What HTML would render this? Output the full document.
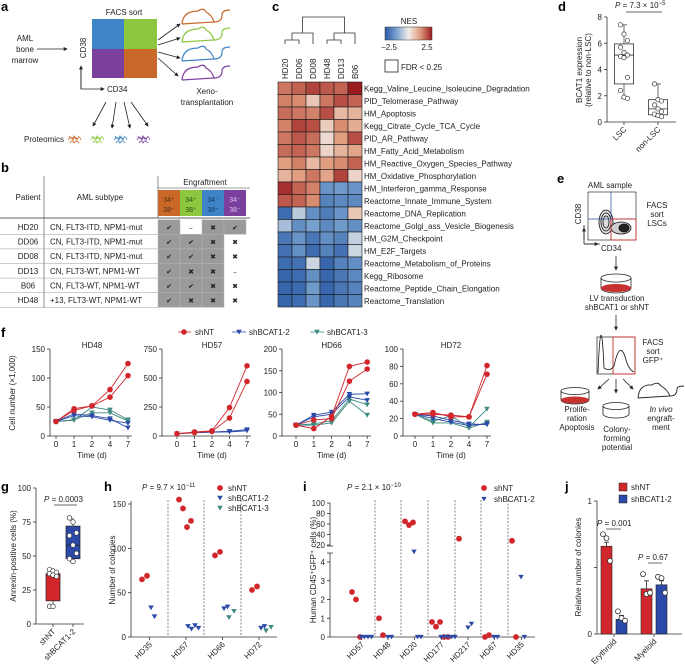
<!DOCTYPE html>
<html><head><meta charset="utf-8">
<style>
html,body{margin:0;padding:0;background:#fff;}
svg{display:block;font-family:"Liberation Sans",Arial,sans-serif;}
text{fill:#222;}
.pl{font-weight:bold;font-size:13px;fill:#000;}
.t8{font-size:8px;}
.t7{font-size:7px;}
.ax{stroke:#333;stroke-width:0.8;fill:none;}
</style></head>
<body>
<svg id="fig" width="685" height="668" viewBox="0 0 685 668" xmlns="http://www.w3.org/2000/svg">
<defs>
<marker id="ah" viewBox="0 0 6 6" refX="5" refY="3" markerWidth="5" markerHeight="5" orient="auto"><path d="M0,0L6,3L0,6z" fill="#222"/></marker>
</defs>
<!-- panel a -->
<g>
<text class="pl" x="1" y="11">a</text>
<text class="t8" x="124" y="15" text-anchor="middle">FACS sort</text>
<rect x="92" y="19" width="32" height="30" fill="#3f84c6"/>
<rect x="124" y="19" width="33" height="30" fill="#8dc63f"/>
<rect x="92" y="49" width="32" height="29" fill="#7b3f9e"/>
<rect x="124" y="49" width="33" height="29" fill="#c8692a"/>
<text class="t8" x="25" y="41" text-anchor="middle">AML</text>
<text class="t8" x="25" y="52" text-anchor="middle">bone</text>
<text class="t8" x="25" y="63" text-anchor="middle">marrow</text>
<line x1="37" y1="49" x2="67" y2="49" stroke="#222" stroke-width="0.8" marker-end="url(#ah)"/>
<text class="t8" transform="translate(86,48) rotate(-90)" text-anchor="middle">CD38</text>
<path d="M81,66 L81,89 L104,89" fill="none" stroke="#222" stroke-width="0.8" marker-end="url(#ah)"/>
<line x1="81" y1="89" x2="81" y2="66" stroke="#222" stroke-width="0.8" marker-end="url(#ah)"/>
<text class="t8" x="107" y="92">CD34</text>
<g stroke="#222" stroke-width="0.8">
<line x1="158" y1="40" x2="180" y2="24" marker-end="url(#ah)"/><line x1="158" y1="45" x2="180" y2="38" marker-end="url(#ah)"/>
<line x1="158" y1="52" x2="180" y2="58" marker-end="url(#ah)"/><line x1="158" y1="58" x2="178" y2="76" marker-end="url(#ah)"/>
</g>
<g fill="none" stroke-width="1.2">
<path d="M182,24 Q183,11 198,11 Q204,7 206,12 Q212,15 214,22 L182,24 M214,22 Q222,22 222,15 Q222,10 230,10" stroke="#c8692a"/>
<path d="M182,42 Q183,29 198,29 Q204,25 206,30 Q212,33 214,40 L182,42 M214,40 Q222,40 222,33 Q222,28 230,28" stroke="#8dc63f"/>
<path d="M182,61 Q183,48 198,48 Q204,44 206,49 Q212,52 214,59 L182,61 M214,59 Q222,59 222,52 Q222,47 230,47" stroke="#3f84c6"/>
<path d="M182,80 Q183,67 198,67 Q204,63 206,68 Q212,71 214,78 L182,80 M214,78 Q222,78 222,71 Q222,66 230,66" stroke="#7b3f9e"/>
</g>
<text class="t8" x="207" y="94" text-anchor="middle">Xeno-</text>
<text class="t8" x="207" y="105" text-anchor="middle">transplantation</text>
<g stroke="#222" stroke-width="0.8">
<line x1="106" y1="102" x2="93" y2="126" marker-end="url(#ah)"/><line x1="116" y1="102" x2="112" y2="128" marker-end="url(#ah)"/>
<line x1="124" y1="102" x2="130" y2="128" marker-end="url(#ah)"/><line x1="131" y1="102" x2="148" y2="126" marker-end="url(#ah)"/>
</g>
<text class="t8" x="24" y="142">Proteomics</text>
<g fill="none" stroke-width="0.8">
<path d="M68,140 q3,-6 5,0 q2,-6 4,0 q2,-6 4,0 M69,136 q3,6 5,0 q2,6 5,0 M70,143 q2,-4 4,0 q2,-4 5,0" stroke="#c8692a"/>
<path d="M91,140 q3,-6 5,0 q2,-6 4,0 q2,-6 4,0 M92,136 q3,6 5,0 q2,6 5,0 M93,143 q2,-4 4,0 q2,-4 5,0" stroke="#8dc63f"/>
<path d="M114,140 q3,-6 5,0 q2,-6 4,0 q2,-6 4,0 M115,136 q3,6 5,0 q2,6 5,0 M116,143 q2,-4 4,0 q2,-4 5,0" stroke="#3f84c6"/>
<path d="M137,140 q3,-6 5,0 q2,-6 4,0 q2,-6 4,0 M138,136 q3,6 5,0 q2,6 5,0 M139,143 q2,-4 4,0 q2,-4 5,0" stroke="#7b3f9e"/>
</g>
</g>
<!-- panel b -->
<g>
<text class="pl" x="1" y="172">b</text>
<line x1="44" y1="176" x2="44" y2="308" stroke="#444" stroke-width="0.6"/>
<line x1="158" y1="176" x2="158" y2="218" stroke="#444" stroke-width="0.6"/>
<line x1="158" y1="188" x2="250" y2="188" stroke="#444" stroke-width="0.6"/>
<text class="t8" x="205" y="185" text-anchor="middle">Engraftment</text>
<text class="t8" x="28" y="200" text-anchor="middle">Patient</text>
<text class="t8" x="100" y="200" text-anchor="middle">AML subtype</text>
<rect x="158" y="190" width="22" height="26" fill="#c8692a"/><rect x="180" y="190" width="22" height="26" fill="#8dc63f"/>
<rect x="202" y="190" width="22" height="26" fill="#3f84c6"/><rect x="224" y="190" width="22" height="26" fill="#7b3f9e"/>
<g class="t7" text-anchor="middle">
<text x="169" y="202" style="fill:#5a2a08">34⁺</text><text x="169" y="212" style="fill:#5a2a08">38⁻</text>
<text x="191" y="202" style="fill:#2f4d10">34⁺</text><text x="191" y="212" style="fill:#2f4d10">38⁺</text>
<text x="213" y="202" style="fill:#133a60">34⁻</text><text x="213" y="212" style="fill:#133a60">38⁺</text>
<text x="235" y="202" style="fill:#d9c2ea">34⁻</text><text x="235" y="212" style="fill:#d9c2ea">38⁻</text>
</g>
<line x1="0" y1="218" x2="250" y2="218" stroke="#333" stroke-width="0.8"/>
<g id="tableRows"></g>
</g>
<!-- panel c -->
<g>
<text class="pl" x="272" y="11">c</text>
<g id="dendro" fill="none" stroke="#333" stroke-width="0.8">
<path d="M285,44V40H299V44 M292,40V33H313V44 M327,44V40H341V44 M334,40V33H355V44 M302.5,33V17H344.5V33"/>
</g>
<g id="heat"></g>
<text class="t8" x="409" y="24" text-anchor="middle">NES</text>
<linearGradient id="nesg" x1="0" x2="1" y1="0" y2="0">
<stop offset="0" stop-color="#2a5aa6"/><stop offset="0.25" stop-color="#7aa3cf"/><stop offset="0.5" stop-color="#f3eeea"/><stop offset="0.75" stop-color="#e09b7c"/><stop offset="1" stop-color="#9b1c1f"/>
</linearGradient>
<rect x="385" y="27" width="47" height="13" fill="url(#nesg)" stroke="#333" stroke-width="0.5"/>
<text class="t8" x="389" y="50" text-anchor="middle">−2.5</text>
<text class="t8" x="427" y="50" text-anchor="middle">2.5</text>
<rect x="385" y="60" width="13" height="12" fill="none" stroke="#222" stroke-width="0.8"/>
<text class="t8" x="401" y="70">FDR &lt; 0.25</text>
</g>
<!-- panel d -->
<g id="pd">
<text class="pl" x="558" y="11">d</text>
</g>
<!-- panel e -->
<g>
<text class="pl" x="557" y="183">e</text>
<text class="t8" x="610" y="188" text-anchor="middle">AML sample</text>
<rect x="588" y="192" width="48" height="48" fill="#fff" stroke="#333" stroke-width="0.7"/>
<g fill="none" stroke="#111" stroke-width="0.8">
<ellipse cx="606" cy="222" rx="7" ry="12" fill="#ddd"/><ellipse cx="606" cy="222" rx="5" ry="9"/><ellipse cx="606" cy="222" rx="3" ry="6"/>
<ellipse cx="621" cy="228" rx="10" ry="6" fill="#ccc"/><ellipse cx="624" cy="228" rx="5" ry="4" fill="#222"/>
</g>
<line x1="611" y1="192" x2="611" y2="240" stroke="#2a4aa8" stroke-width="0.7"/>
<line x1="588" y1="219" x2="636" y2="219" stroke="#2a4aa8" stroke-width="0.7"/>
<rect x="611" y="219" width="25" height="21" fill="none" stroke="#c8322e" stroke-width="0.9"/>
<path d="M584,240V225 M584,244H600" stroke="#222" stroke-width="0.8" fill="none"/>
<line x1="584" y1="244" x2="584" y2="228" stroke="#222" stroke-width="0.8" marker-end="url(#ah)"/>
<line x1="584" y1="244" x2="598" y2="244" stroke="#222" stroke-width="0.8" marker-end="url(#ah)"/>
<text class="t8" transform="translate(581,214) rotate(-90)" text-anchor="middle">CD38</text>
<text class="t8" x="601" y="251">CD34</text>
<text class="t8" x="657" y="208" text-anchor="middle">FACS</text><text class="t8" x="657" y="217" text-anchor="middle">sort</text><text class="t8" x="657" y="226" text-anchor="middle">LSCs</text>
<line x1="616" y1="256" x2="616" y2="270" stroke="#222" stroke-width="0.8" marker-end="url(#ah)"/>
<path d="M601,278 V288 A15,5 0 0 0 631,288 V278" fill="#fff" stroke="#222" stroke-width="0.8"/>
<ellipse cx="616" cy="288" rx="15" ry="4" fill="#c8322e"/>
<ellipse cx="616" cy="278" rx="15" ry="4" fill="#fff" stroke="#222" stroke-width="0.8"/>
<text class="t8" x="617" y="301" text-anchor="middle">LV transduction</text>
<text class="t8" x="617" y="310" text-anchor="middle">shBCAT1 or shNT</text>
<line x1="616" y1="315" x2="616" y2="330" stroke="#222" stroke-width="0.8" marker-end="url(#ah)"/>
<rect x="597" y="337" width="38" height="37" fill="#fff" stroke="#222" stroke-width="0.7"/>
<rect x="613" y="337" width="22" height="37" fill="none" stroke="#c8322e" stroke-width="0.9"/>
<path d="M598,373 Q601,300 604,368 Q610,372 614,366 Q620,338 626,360 Q629,370 634,372" fill="none" stroke="#111" stroke-width="0.8"/>
<text class="t8" x="653" y="345" text-anchor="middle">FACS</text><text class="t8" x="653" y="354" text-anchor="middle">sort</text><text class="t8" x="653" y="363" text-anchor="middle">GFP⁺</text>
<g stroke="#222" stroke-width="0.8"><line x1="609" y1="379" x2="598" y2="389" marker-end="url(#ah)"/><line x1="616" y1="379" x2="616" y2="393" marker-end="url(#ah)"/><line x1="623" y1="379" x2="633" y2="389" marker-end="url(#ah)"/></g>
<path d="M561,391 V400 A14,4 0 0 0 589,400 V391" fill="#fff" stroke="#222" stroke-width="0.8"/>
<ellipse cx="575" cy="400" rx="14" ry="3.5" fill="#c8322e"/>
<ellipse cx="575" cy="391" rx="14" ry="3.5" fill="#fff" stroke="#222" stroke-width="0.8"/>
<path d="M603,406 V414 A13,4 0 0 0 629,414 V406" fill="#fff" stroke="#222" stroke-width="0.8"/>
<ellipse cx="616" cy="406" rx="13" ry="3.5" fill="#fff" stroke="#222" stroke-width="0.8"/>
<path d="M638,398 Q639,384 652,385 Q658,381 661,386 Q667,389 670,396 L638,398 M670,396 Q677,396 677,389 Q677,386 684,386" fill="none" stroke="#222" stroke-width="0.9"/>
<text class="t8" x="577" y="412" text-anchor="middle">Prolife-</text><text class="t8" x="577" y="421" text-anchor="middle">ration</text><text class="t8" x="577" y="430" text-anchor="middle">Apoptosis</text>
<text class="t8" x="617" y="432" text-anchor="middle">Colony-</text><text class="t8" x="617" y="441" text-anchor="middle">forming</text><text class="t8" x="617" y="450" text-anchor="middle">potential</text>
<text class="t8" x="661" y="412" text-anchor="middle" font-style="italic">In vivo</text><text class="t8" x="661" y="421" text-anchor="middle">engraft-</text><text class="t8" x="661" y="430" text-anchor="middle">ment</text>
</g>
<!-- f -->
<g id="pf">
<text class="pl" x="1" y="337">f</text>
<text class="t8" transform="translate(15,393) rotate(-90)" text-anchor="middle">Cell number (×1,000)</text>
</g>
<g id="pg"><text class="pl" x="1" y="491">g</text></g>
<g id="ph"><text class="pl" x="104" y="491">h</text></g>
<g id="pi"><text class="pl" x="303" y="491">i</text></g>
<g id="pj"><text class="pl" x="565" y="491">j</text></g>
</svg>
<script>
// ===== data =====
const tablePatients = ["HD20","DD06","DD08","DD13","B06","HD48"];
const tableSubtypes = ["CN, FLT3-ITD, NPM1-mut","CN, FLT3-ITD, NPM1-mut","CN, FLT3-ITD, NPM1-mut","CN, FLT3-WT, NPM1-WT","CN, FLT3-WT, NPM1-WT","+13, FLT3-WT, NPM1-WT"];
const tableMarks = [["✔","–","✖","✔"],["✔","✔","✖","✖"],["✔","✔","✖","✖"],["✔","✖","✖","–"],["✔","✔","✖","✖"],["✔","✖","✖","✖"]];
const tableShaded = [[1,0,1,1],[1,1,1,0],[1,1,1,0],[1,1,1,0],[1,1,1,0],[1,1,1,0]];

const heatCols = ["HD20","DD06","DD08","HD48","DD13","B06"];
const heatRows = ["Kegg_Valine_Leucine_Isoleucine_Degradation","PID_Telomerase_Pathway","HM_Apoptosis","Kegg_Citrate_Cycle_TCA_Cycle","PID_AR_Pathway","HM_Fatty_Acid_Metabolism","HM_Reactive_Oxygen_Species_Pathway","HM_Oxidative_Phosphorylation","HM_Interferon_gamma_Response","Reactome_Innate_Immune_System","Reactome_DNA_Replication","Reactome_Golgi_ass_Vesicle_Biogenesis","HM_G2M_Checkpoint","HM_E2F_Targets","Reactome_Metabolism_of_Proteins","Kegg_Ribosome","Reactome_Peptide_Chain_Elongation","Reactome_Translation"];
const heatValues = [
[1.6,1.8,2.1,1.9,1.8,2.5],[1.5,1.4,0.6,1.6,2.0,1.8],[1.7,1.6,1.5,2.0,0.8,0.9],[1.5,2.1,2.0,0.5,1.4,1.0],
[1.6,1.9,1.7,0.3,1.2,2.0],[1.7,1.8,1.6,0.4,0.9,1.1],[1.2,1.5,0.8,1.2,1.4,1.8],[0.9,1.2,1.6,1.1,2.1,0.4],
[2.3,1.8,1.5,-1.5,-1.4,-1.5],[1.9,1.8,1.4,-1.8,-1.7,-1.7],[-2.2,-0.6,-1.6,-1.9,-1.5,0.6],[-0.8,-1.6,-1.3,-1.7,-1.4,-1.6],
[-2.0,-1.5,-2.0,-1.6,-1.8,-0.5],[-2.1,-1.6,-2.2,-1.8,-2.1,-0.4],[-2.2,-2.1,-0.4,-2.3,-1.8,-1.6],[-2.3,-2.2,-1.6,-2.3,-2.0,-1.7],
[-2.3,-2.2,-1.4,-2.3,-2.0,-1.8],[-2.3,-2.2,-1.5,-2.3,-2.0,-1.8]];

const dGroups = ["LSC","non-LSC"];
const dTicks = [0,2,4,6,8];
const dLSC = [7.4,6.7,6.2,5.7,5.3,5.1,5.0,4.9,3.4,2.4,1.9,1.8];
const dNonLSC = [2.9,1.7,1.6,1.3,1.0,0.8,0.6,0.5,0.4];
const dBoxLSC = [1.8,2.9,5.1,5.95,7.4];
const dBoxNon = [0.4,0.55,1.0,1.7,2.9];

const fTimes = ["0","1","2","4","7"];
const fPatients = ["HD48","HD57","HD66","HD72"];
const fMax = [150,750,200,100];
const fTicks = [[0,50,100,150],[0,250,500,750],[0,50,100,150,200],[0,20,40,60,80,100]];
const fShNT = [[[25,47,52,80,125],[25,44,52,67,104]],[[20,35,45,245,605],[20,30,40,155,470]],[[25,17,45,160,170],[25,37,40,126,154]],[[25,27,22,22,81],[25,25,24,22,71]]];
const fShB2 = [[[25,38,35,30,14],[25,35,33,27,22]],[[20,30,35,40,55],[20,28,33,35,45]],[[25,48,55,96,97],[25,44,50,90,82]],[[25,23,18,14,13],[25,20,16,12,14]]];
const fShB3 = [[[25,27,50,45,28],[25,28,40,40,26]],[],[[25,28,35,85,72],[25,25,30,80,48]],[[25,17,23,10,31],[25,15,15,9,16]]];

const gGroups = ["shNT","shBCAT1-2"];
const gTicks = [0,25,50,75,100];
const gShNT = [40,39,38,37,36,35,13,13];
const gShB2 = [78,75,67,65,58,52,48,46];
const gBoxNT = [13,17,36,37,40];
const gBoxB2 = [45,48,58,72,78];

const hPatients = ["HD35","HD57","HD66","HD72"];
const hTicks = [0,50,100,150];
const hShNT = [[65,69],[155,145,124,131],[92,96],[53,57]];
const hShB2 = [[33,23],[12,9,13,10],[32,34],[10,12]];
const hShB3 = [[],[],[22,29],[7,11]];

const iPatients = ["HD57","HD48","HD20","HD177","HD217","HD67","HD35"];
const iTicksLow = [0,1,2,3,4];
const iTicksHigh = [20,40,60,80,100];
const iShNT = [[2.4,2.0,0],[1.0,0.1],[65,58,63],[0.8,0.55,0.8,0,0],[32],[0,0.1],[28,0]];
const iShB2 = [[0,0,0,0],[0,0],[7,0,0],[0,0,0,0,0],[0.5,0.7],[0,0],[3.2,0]];

const jGroups = ["Erythroid","Myeloid"];
const jTicks = [0,0.5,1];
const jMeanNT = [0.66,0.34];
const jMeanB2 = [0.11,0.37];
const jErrNT = [0.03,0.06];
const jErrB2 = [0.03,0.03];
const jPtsNT = [[0.75,0.72,0.55],[0.45,0.30,0.31]];
const jPtsB2 = [[0.17,0.12,0.10],[0.43,0.42,0.31]];

// ===== helpers =====
const NS="http://www.w3.org/2000/svg";
function mk(tag, attrs, parent){const e=document.createElementNS(NS,tag);for(const k in attrs)e.setAttribute(k,attrs[k]);parent.appendChild(e);return e;}
function txt(s, attrs, parent){const e=mk("text",attrs,parent);e.textContent=s;return e;}
const RED="#d1272c", BLUE="#2a49a8", TEAL="#3e8a80";
function tri(cx,cy,s,col,parent){return mk("path",{d:`M${cx-s},${cy-s*0.8}L${cx+s},${cy-s*0.8}L${cx},${cy+s*0.9}Z`,fill:col},parent);}
function lerp(a,b,t){return a+(b-a)*t;}
function heatColor(v){
  const stops=[[-2.5,[42,90,166]],[-1.25,[122,163,207]],[0,[243,238,234]],[1.25,[224,155,124]],[2.5,[155,28,31]]];
  v=Math.max(-2.5,Math.min(2.5,v));
  for(let i=0;i<stops.length-1;i++){if(v<=stops[i+1][0]){const t=(v-stops[i][0])/(stops[i+1][0]-stops[i][0]);const a=stops[i][1],b=stops[i+1][1];return `rgb(${Math.round(lerp(a[0],b[0],t))},${Math.round(lerp(a[1],b[1],t))},${Math.round(lerp(a[2],b[2],t))})`;}}
}

// ===== table b =====
(function(){
const g=document.getElementById("tableRows");
const rowY=i=>227+i*14.6;
const colX=[169,191,213,235];
tablePatients.forEach((p,i)=>{
  const y=rowY(i);
  const ln=mk("line",{x1:0,x2:158,y1:y+7.3,y2:y+7.3,stroke:"#999","stroke-width":0.5},g);
  
  
  const t1=txt(p,{x:28,y:y+3,"text-anchor":"middle","font-size":8},g);
  
  
  const t2=txt(tableSubtypes[i],{x:50,y:y+3,"font-size":8},g);
  
  
  tableMarks[i].forEach((m,j)=>{
    if(tableShaded[i][j]){
      const r=mk("rect",{x:colX[j]-11,y:y-7.3,width:22,height:14.6,fill:"#9a9a9a",stroke:"#b5b5b5","stroke-width":0.5},g);
      
      
    }
    const t=txt(m,{x:colX[j],y:y+3,"text-anchor":"middle","font-size":7,style:"font-family:'DejaVu Sans',sans-serif;fill:#222"},g);
    
    
  });
});
})();

// ===== heatmap c =====
(function(){
const g=document.getElementById("heat");
const x0=278,cw=14,y0=82,rh=12.5;
heatCols.forEach((c,j)=>{
  const t=txt(c,{transform:`translate(${x0+j*cw+cw/2+3},79) rotate(-90)`,"font-size":8},g);
  
  
});
heatRows.forEach((r,i)=>{
  heatValues[i].forEach((v,j)=>{
    const c=mk("rect",{x:x0+j*cw,y:y0+i*rh,width:cw,height:rh,fill:heatColor(v),stroke:"#1a1a1a","stroke-width":0.6},g);
    
    
  });
  const t=txt(r,{x:x0+6*cw+2,y:y0+i*rh+rh/2+3,"font-size":8},g);
  
  
});
})();

// ===== d =====
(function(){
const g=document.getElementById("pd");
const ax=607,y0=122,yT=17,max=8;
const Y=v=>y0-(v/max)*(y0-yT);
const cx=[624,658];
mk("path",{d:`M${ax},${yT}V${y0}H676`,class:"ax"},g);
dTicks.forEach(t=>{mk("line",{x1:ax-3,x2:ax,y1:Y(t),y2:Y(t),class:"ax"},g);
  const tl=txt(String(t),{x:ax-5,y:Y(t)+3,"text-anchor":"end","font-size":8},g);
  
  });
dGroups.forEach((gname,i)=>{mk("line",{x1:cx[i],x2:cx[i],y1:y0,y2:y0+3,class:"ax"},g);
  const t=txt(gname,{transform:`translate(${cx[i]+3},${y0+8}) rotate(-45)`,"text-anchor":"end","font-size":8},g);
  
  });
[dBoxLSC,dBoxNon].forEach((b,i)=>{
  const w=9.5;
  mk("line",{x1:cx[i],x2:cx[i],y1:Y(b[0]),y2:Y(b[4]),stroke:"#333","stroke-width":0.7},g);
  const bx=mk("rect",{x:cx[i]-w,y:Y(b[3]),width:2*w,height:Y(b[1])-Y(b[3]),fill:"#fff",stroke:"#333","stroke-width":0.8},g);
  
  
  mk("line",{x1:cx[i]-w,x2:cx[i]+w,y1:Y(b[2]),y2:Y(b[2]),stroke:"#333","stroke-width":0.8},g);
  mk("line",{x1:cx[i]-3,x2:cx[i]+3,y1:Y(b[0]),y2:Y(b[0]),stroke:"#333","stroke-width":0.7},g);
  mk("line",{x1:cx[i]-3,x2:cx[i]+3,y1:Y(b[4]),y2:Y(b[4]),stroke:"#333","stroke-width":0.7},g);
});
[dLSC,dNonLSC].forEach((arr,i)=>arr.forEach((v,k)=>{
  const p=mk("circle",{cx:cx[i]+((k%3)-1)*3.5,cy:Y(v),r:2.2,fill:"#fff",stroke:"#333","stroke-width":0.7},g);
  
  
}));
txt("BCAT1 expression",{transform:"translate(582,70) rotate(-90)","text-anchor":"middle","font-size":8},g);
txt("(relative to non-LSC)",{transform:"translate(591,70) rotate(-90)","text-anchor":"middle","font-size":8},g);
const pt=txt("",{x:615,y:8,"font-size":8},g);pt.innerHTML='<tspan font-style="italic">P</tspan> = 7.3 × 10<tspan dy="-3" font-size="6">−5</tspan>';


mk("line",{x1:626,x2:662,y1:12,y2:12,stroke:"#333","stroke-width":0.7},g);
})();

// ===== f =====
(function(){
const g=document.getElementById("pf");
const top=349,bot=436;
const axX=[50,162,282,403],x0=[56,177,296,415],step=[18,17.5,17.8,18];
// legend
const lc=mk("circle",{cx:184,cy:332,r:2.8,fill:RED},g);
mk("line",{x1:178,x2:191,y1:332,y2:332,stroke:RED,"stroke-width":0.8},g);
txt("shNT",{x:195,y:335,"font-size":8},g);
mk("line",{x1:232,x2:246,y1:332,y2:332,stroke:BLUE,"stroke-width":0.8},g);tri(239,332,2.8,BLUE,g);
txt("shBCAT1-2",{x:249,y:335,"font-size":8},g);
mk("line",{x1:310,x2:324,y1:332,y2:332,stroke:TEAL,"stroke-width":0.8},g);tri(317,332,2.8,TEAL,g);
txt("shBCAT1-3",{x:327,y:335,"font-size":8},g);
fPatients.forEach((p,pi)=>{
  const Y=v=>bot-(v/fMax[pi])*(bot-top);
  const X=i=>x0[pi]+i*step[pi];
  mk("path",{d:`M${axX[pi]},${top}V${bot}H${X(4)+4}`,class:"ax"},g);
  fTicks[pi].forEach(t=>{mk("line",{x1:axX[pi]-3,x2:axX[pi],y1:Y(t),y2:Y(t),class:"ax"},g);
    const tl=txt(String(t),{x:axX[pi]-5,y:Y(t)+3,"text-anchor":"end","font-size":8},g);
    
    });
  fTimes.forEach((t,i)=>{mk("line",{x1:X(i),x2:X(i),y1:bot,y2:bot+3,class:"ax"},g);
    txt(t,{x:X(i),y:bot+11,"text-anchor":"middle","font-size":8},g);});
  txt("Time (d)",{x:(X(0)+X(4))/2,y:bot+22,"text-anchor":"middle","font-size":8},g);
  const tt=txt(p,{x:(X(0)+X(4))/2,y:top-1,"text-anchor":"middle","font-size":8},g);
  
  
  [[fShB3[pi],TEAL,"tri"],[fShB2[pi],BLUE,"tri"],[fShNT[pi],RED,"circ"]].forEach(([series,col,shape])=>{
    series.forEach(vals=>{
      const ln=mk("polyline",{points:vals.map((v,i)=>X(i)+","+Y(v)).join(" "),fill:"none",stroke:col,"stroke-width":0.9},g);
      
      
      vals.forEach((v,i)=>{
        let m;
        if(shape==="circ"){m=mk("circle",{cx:X(i),cy:Y(v),r:2.8,fill:col},g);}
        else{m=tri(X(i),Y(v),2.8,col,g);}
        
        
      });
    });
  });
});
})();

// ===== g =====
(function(){
const g=document.getElementById("pg");
const ax=36,y0=624,yT=488;
const Y=v=>y0-(v/100)*(y0-yT);
const cx=[53,73];
mk("path",{d:`M${ax},${yT}V${y0}H84`,class:"ax"},g);
gTicks.forEach(t=>{mk("line",{x1:ax-3,x2:ax,y1:Y(t),y2:Y(t),class:"ax"},g);
  txt(String(t),{x:ax-5,y:Y(t)+3,"text-anchor":"end","font-size":8},g);});
gGroups.forEach((n,i)=>{mk("line",{x1:cx[i],x2:cx[i],y1:y0,y2:y0+3,class:"ax"},g);
  const t=txt(n,{transform:`translate(${cx[i]+3},${y0+8}) rotate(-45)`,"text-anchor":"end","font-size":8},g);
  
  });
[[gBoxNT,RED],[gBoxB2,BLUE]].forEach(([b,col],i)=>{
  const w=7;
  mk("line",{x1:cx[i],x2:cx[i],y1:Y(b[0]),y2:Y(b[4]),stroke:"#222","stroke-width":0.7},g);
  const bx=mk("rect",{x:cx[i]-w,y:Y(b[3]),width:2*w,height:Y(b[1])-Y(b[3]),fill:col,stroke:"#222","stroke-width":0.7},g);
  
  
  mk("line",{x1:cx[i]-w,x2:cx[i]+w,y1:Y(b[2]),y2:Y(b[2]),stroke:"#222","stroke-width":0.8},g);
});
[gShNT,gShB2].forEach((arr,i)=>arr.forEach((v,k)=>{
  const p=mk("circle",{cx:cx[i]+((k%3)-1)*3.5,cy:Y(v),r:2.3,fill:"#fff",stroke:"#333","stroke-width":0.7},g);
  
  
}));
txt("Annexin-positive cells (%)",{transform:"translate(16,556) rotate(-90)","text-anchor":"middle","font-size":8},g);
const pt=txt("",{x:44,y:502,"font-size":8},g);pt.innerHTML='<tspan font-style="italic">P</tspan> = 0.0003';


mk("line",{x1:54,x2:77,y1:505,y2:505,stroke:"#333","stroke-width":0.7},g);
})();

// ===== h =====
(function(){
const g=document.getElementById("ph");
const ax=131,y0=637,yT=504,max=150;
const Y=v=>y0-(v/max)*(y0-yT);
const bounds=[131,168,204,241,277];
mk("path",{d:`M${ax},${yT-3}V${y0}H${bounds[4]}`,class:"ax"},g);
hTicks.forEach(t=>{mk("line",{x1:ax-3,x2:ax,y1:Y(t),y2:Y(t),class:"ax"},g);
  txt(String(t),{x:ax-5,y:Y(t)+3,"text-anchor":"end","font-size":8},g);});
hPatients.forEach((p,i)=>{
  const L=bounds[i],R=bounds[i+1],c=(L+R)/2;
  if(i>0){const d=mk("line",{x1:L,x2:L,y1:yT-4,y2:y0,stroke:"#333","stroke-width":0.6,"stroke-dasharray":"2,1.5"},g);
    
    }
  mk("line",{x1:c,x2:c,y1:y0,y2:y0+3,class:"ax"},g);
  const t=txt(p,{transform:`translate(${c+3},${y0+8}) rotate(-45)`,"text-anchor":"end","font-size":8},g);
  
  
  const nt=hShNT[i];
  nt.forEach((v,k)=>{const m=mk("circle",{cx:L+11+k*(nt.length>2?4:5),cy:Y(v),r:2.9,fill:RED},g);
    
    });
  hShB2[i].forEach((v,k)=>{const m=tri(L+20+k*3.5,Y(v),2.8,BLUE,g);
    
    });
  hShB3[i].forEach((v,k)=>{const m=tri(L+25+k*5,Y(v),2.8,TEAL,g);
    
    });
});
txt("Number of colonies",{transform:"translate(115,570) rotate(-90)","text-anchor":"middle","font-size":8},g);
const pt=txt("",{x:142,y:490,"font-size":8},g);pt.innerHTML='<tspan font-style="italic">P</tspan> = 9.7 × 10<tspan dy="-3" font-size="6">−11</tspan>';


mk("circle",{cx:220,cy:488,r:2.9,fill:RED},g);txt("shNT",{x:228,y:491,"font-size":8},g);
tri(220,498,2.8,BLUE,g);txt("shBCAT1-2",{x:228,y:501,"font-size":8},g);
tri(220,508,2.8,TEAL,g);txt("shBCAT1-3",{x:228,y:511,"font-size":8},g);
})();

// ===== i =====
(function(){
const g=document.getElementById("pi");
const ax=330,y0=637,yLowTop=562,lowMax=4;
const Y=v=> v<=lowMax+0.5 && v<=4 ? y0-(v/lowMax)*(y0-yLowTop) : 545-(v-20)*0.525;
const bounds=[348,375,401,428,455,481,508,535];
mk("path",{d:`M${ax},503V546 M${ax},553V${y0}H535`,class:"ax"},g);
mk("path",{d:`M${ax-3},546H${ax+3} M${ax-3},553H${ax+3}`,class:"ax"},g);
iTicksLow.forEach(t=>{mk("line",{x1:ax-3,x2:ax,y1:Y(t),y2:Y(t),class:"ax"},g);
  txt(String(t),{x:ax-5,y:Y(t)+3,"text-anchor":"end","font-size":8},g);});
iTicksHigh.forEach(t=>{mk("line",{x1:ax-3,x2:ax,y1:Y(t),y2:Y(t),class:"ax"},g);
  txt(String(t),{x:ax-5,y:Y(t)+3,"text-anchor":"end","font-size":8},g);});
iPatients.forEach((p,i)=>{
  const L=bounds[i],R=bounds[i+1],c=(L+R)/2;
  if(i>0){const d=mk("line",{x1:L,x2:L,y1:500,y2:y0,stroke:"#333","stroke-width":0.6,"stroke-dasharray":"2,1.5"},g);
    
    }
  mk("line",{x1:c,x2:c,y1:y0,y2:y0+3,class:"ax"},g);
  const t=txt(p,{transform:`translate(${c+3},${y0+8}) rotate(-45)`,"text-anchor":"end","font-size":8},g);
  
  
  iShNT[i].forEach((v,k)=>{const m=mk("circle",{cx:L+4+k*4,cy:Y(v),r:2.9,fill:RED},g);
    
    });
  iShB2[i].forEach((v,k)=>{const m=tri(L+13+k*3.5,Y(v),2.7,BLUE,g);
    
    });
});
txt("Human CD45⁺GFP⁺ cells (%)",{transform:"translate(316,570) rotate(-90)","text-anchor":"middle","font-size":8},g);
const pt=txt("",{x:347,y:490,"font-size":8},g);pt.innerHTML='<tspan font-style="italic">P</tspan> = 2.1 × 10<tspan dy="-3" font-size="6">−10</tspan>';


mk("circle",{cx:484,cy:488,r:2.9,fill:RED},g);txt("shNT",{x:494,y:491,"font-size":8},g);
tri(484,499,2.7,BLUE,g);txt("shBCAT1-2",{x:494,y:502,"font-size":8},g);
})();

// ===== j =====
(function(){
const g=document.getElementById("pj");
const ax=597,y0=634,yT=501;
const Y=v=>y0-v*(y0-yT);
const gx=[614,654];
mk("path",{d:`M${ax},${yT}V${y0}H682`,class:"ax"},g);
jTicks.forEach(t=>{mk("line",{x1:ax-3,x2:ax,y1:Y(t),y2:Y(t),class:"ax"},g);
  if(t!==0.5)txt(String(t),{x:ax-5,y:Y(t)+3,"text-anchor":"end","font-size":8},g);});
jGroups.forEach((n,i)=>{
  mk("line",{x1:gx[i],x2:gx[i],y1:y0,y2:y0+3,class:"ax"},g);
  const t=txt(n,{transform:`translate(${gx[i]+3},${y0+8}) rotate(-45)`,"text-anchor":"end","font-size":8},g);
  
  
  [[jMeanNT,jErrNT,jPtsNT,RED,-7.5],[jMeanB2,jErrB2,jPtsB2,BLUE,7.5]].forEach(([mean,err,pts,col,off])=>{
    const c=gx[i]+off;
    mk("line",{x1:c,x2:c,y1:Y(mean[i]+err[i]),y2:Y(mean[i]),stroke:"#222","stroke-width":0.8},g);
    mk("line",{x1:c-2.5,x2:c+2.5,y1:Y(mean[i]+err[i]),y2:Y(mean[i]+err[i]),stroke:"#222","stroke-width":0.8},g);
    const b=mk("rect",{x:c-5.5,y:Y(mean[i]),width:11,height:Y(0)-Y(mean[i]),fill:col,stroke:"#222","stroke-width":0.6},g);
    
    
    pts[i].forEach((v,k)=>{const p=mk("circle",{cx:c+(k-1)*3.5,cy:Y(v),r:2.5,fill:"#fff",stroke:"#333","stroke-width":0.8},g);
      
      });
  });
});
txt("Relative number of colonies",{transform:"translate(581,567) rotate(-90)","text-anchor":"middle","font-size":8},g);
const p1=txt("",{x:597,y:526,"font-size":8},g);p1.innerHTML='<tspan font-style="italic">P</tspan> = 0.001';


mk("line",{x1:606,x2:621,y1:529,y2:529,stroke:"#333","stroke-width":0.7},g);
const p2=txt("",{x:638,y:560,"font-size":8},g);p2.innerHTML='<tspan font-style="italic">P</tspan> = 0.67';


mk("line",{x1:648,x2:662,y1:563,y2:563,stroke:"#333","stroke-width":0.7},g);
mk("rect",{x:619,y:483,width:8,height:8,fill:RED,stroke:"#222","stroke-width":0.5},g);txt("shNT",{x:631,y:490,"font-size":8},g);
mk("rect",{x:619,y:495,width:8,height:8,fill:BLUE,stroke:"#222","stroke-width":0.5},g);txt("shBCAT1-2",{x:631,y:502,"font-size":8},g);
})();
</script>
</body></html>
